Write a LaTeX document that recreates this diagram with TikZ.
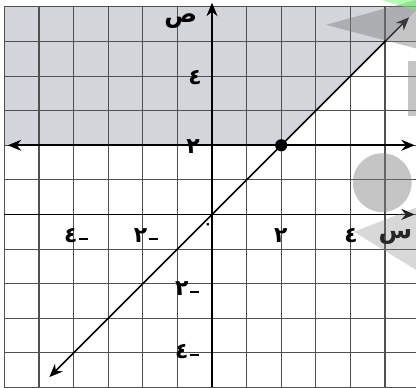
\documentclass[tikz,border=0pt]{standalone}
\usepackage{fontspec}
\usepackage{xcolor}
\usepackage{tikz}
\usetikzlibrary{arrows.meta}
\newfontfamily\arabicfont[Script=Arabic]{DejaVu Sans}
\definecolor{regiongray}{RGB}{211,213,218}
\definecolor{gridline}{RGB}{80,80,80}
\newcommand{\negdig}[1]{#1\kern0.06em\rule[0.14em]{0.42em}{0.09em}}

\begin{document}
\begin{tikzpicture}[
    x=1cm, y=1cm,
    gridrule/.style={draw=gridline, line width=0.9pt},
    axis/.style={draw=black, line width=1.5pt},
    arr/.style={-{Stealth[length=11pt, width=9pt]}},
    twoarr/.style={{Stealth[length=11pt, width=9pt]}-{Stealth[length=11pt, width=9pt]}, line width=1.2pt},
    num/.style={font=\arabicfont\bfseries\fontsize{18}{20}\selectfont, inner sep=0pt},
    letter/.style={font=\arabicfont\bfseries\fontsize{20}{22}\selectfont, inner sep=0pt},
    blot/.style={fill=gray, opacity=0.45},
]
\useasboundingbox (-6.127,-5.014) rectangle (5.896,6.199);
\fill[white] (-6.127,-5.014) rectangle (5.896,6.199);

% Shaded region
\fill[regiongray] (-6,2) -- (2,2) -- (5.896,5.896) -- (5.896,6) -- (-6,6) -- cycle;

% Grid
\foreach \x in {-6,...,5} \draw[gridrule] (\x,-5) -- (\x,6);
\foreach \y in {-5,...,6} \draw[gridrule] (-6,\y) -- (5.896,\y);

% Axes
\coordinate (xstart) at (-6,0);
\coordinate (xend) at (5.86,0);
\coordinate (ystart) at (0,-5);
\coordinate (yend) at (0,6.12);
\draw[axis, arr] (xstart) -- (xend);
\draw[axis, arr] (ystart) -- (yend);

% Lines
\coordinate (hleft) at (-5.9,2);
\coordinate (hright) at (5.86,2);
\coordinate (dleft) at (-4.7,-4.7);
\coordinate (dright) at (5.7,5.7);
\draw[twoarr, line width=1.5pt] (hleft) -- (hright);
\draw[twoarr] (dleft) -- (dright);
\node[circle, fill=black, inner sep=0pt, minimum size=10pt] (pt) at (2,2) {};

% Labels
\node[letter] (ylab) at (-0.9,5.6) {ص};
\node[letter] (xlab) at (5.3,-0.65) {س};
\node[num] (zero) at (-0.12,-0.33) {\fontsize{11}{12}\selectfont ٠};
\node[num] (xm4) at (-3.93,-0.62) {\negdig{٤}};
\node[num] (xm2) at (-1.91,-0.62) {\negdig{٢}};
\node[num] (xp2) at (1.99,-0.62) {٢};
\node[num] (xp4) at (4.02,-0.62) {٤};
\node[num] (yp4) at (-0.49,3.95) {٤};
\node[num] (yp2) at (-0.55,1.95) {٢};
\node[num] (ym2) at (-0.72,-2.15) {\negdig{٢}};
\node[num] (ym4) at (-0.72,-3.97) {\negdig{٤}};

% Overlay marks
\fill[blot] (3.29,5.48) -- (5.896,6.199) -- (5.896,4.8) -- cycle;
\fill[green!60, opacity=0.5] (4.9,6.199) -- (5.896,6.199) -- (5.896,5.9) -- cycle;
\fill[blot] (4.92,0.92) circle (0.85);
\fill[blot] (5.66,2.85) rectangle (5.896,4.45);
\fill[gray, opacity=0.3] (4.1,-0.5) -- (5.896,0.2) -- (5.896,-1.6) -- cycle;
\end{tikzpicture}
\end{document}
